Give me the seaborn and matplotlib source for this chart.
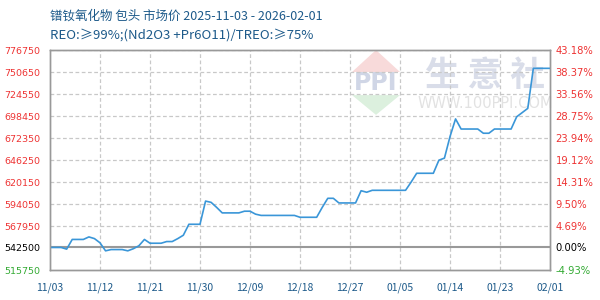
import matplotlib
matplotlib.use("Agg")
import matplotlib.pyplot as plt
import seaborn as sns
import pandas as pd
import numpy as np
from matplotlib.patches import Polygon

# ---------------- data ----------------
start_date = "2025-11-03"
prices = [
    542500, 542500, 542500, 540500, 552000, 552000, 552000, 555000, 553000, 548000,
    538500, 540000, 540000, 540000, 538500, 541000, 544500, 552000, 547500, 547500,
    547500, 549500, 549500, 553000, 557000, 570000, 570000, 570000, 597500, 596000,
    590000, 583500, 583500, 583500, 583500, 585500, 585500, 582000, 580500, 580500,
    580500, 580500, 580500, 580500, 580500, 578300, 578300, 578300, 578300, 590000,
    600800, 600800, 595300, 595300, 595300, 595300, 609800, 608000, 610300, 610300,
    610300, 610300, 610300, 610300, 610300, 620000, 630500, 630500, 630500, 630500,
    646000, 648500, 674000, 695000, 683000, 683000, 683000, 683000, 678000, 678000,
    683000, 683000, 683000, 683000, 697500, 702500, 707500, 755000, 755000, 755000,
    755000,
]
base_price = 542500
left_ticks = [776750, 750650, 724550, 698450, 672350, 646250, 620150, 594050, 567950, 542500, 515750]
right_labels = ["43.18%", "38.37%", "33.56%", "28.75%", "23.94%", "19.12%", "14.31%",
                "9.50%", "4.69%", "0.00%", "-4.93%"]
xtick_labels = ["11/03", "11/12", "11/21", "11/30", "12/09", "12/18", "12/27",
                "01/05", "01/14", "01/23", "02/01"]
title_line1 = "镨钕氧化物 包头 市场价 2025-11-03 - 2026-02-01"
title_line2 = "REO:≥99%;(Nd2O3 +Pr6O11)/TREO:≥75%"

dates = pd.date_range(start_date, periods=len(prices), freq="D")
df = pd.DataFrame({"date": dates, "price": prices})
xtick_dates = pd.date_range(start_date, periods=len(xtick_labels), freq="9D")

# ---------------- style ----------------
sns.set_theme(style="white")
plt.rcParams["font.family"] = ["Noto Sans CJK SC", "DejaVu Sans"]

fig = plt.figure(figsize=(6, 3), dpi=100)
ax = fig.add_axes([50 / 600, 30 / 300, 500 / 600, 220 / 300])

red = "#ee3333"
green = "#33aa33"
navy = "#1d5a8a"
grid_c = "#c8c8c8"
spine_c = "#999999"

# watermark
ax.add_patch(Polygon([[0.604, 0.9], [0.652, 1.0], [0.700, 0.9]], closed=True,
                     transform=ax.transAxes, facecolor="#f8dada", edgecolor="none", zorder=0))
ax.add_patch(Polygon([[0.604, 0.795], [0.652, 0.705], [0.700, 0.795]], closed=True,
                     transform=ax.transAxes, facecolor="#dcf0de", edgecolor="none", zorder=0))
ax.text(0.652, 0.848, "PPI", transform=ax.transAxes, ha="center", va="center",
        fontsize=17, fontweight="bold", color="#d0d6e6", family=["DejaVu Sans"], zorder=0)
ax.text(0.87, 0.885, "生 意 社", transform=ax.transAxes, ha="center", va="center",
        fontsize=25, fontweight="bold", color="#d9dde9", zorder=0)
ax.text(0.87, 0.755, "WWW.100PPI.COM", transform=ax.transAxes, ha="center", va="center",
        fontsize=10.5, color="#e2e2e2", family=["DejaVu Sans"], zorder=0)

sns.lineplot(data=df, x="date", y="price", ax=ax, color="#3a96d8", linewidth=1.2, zorder=3)

ax.set_xlim(dates[0], dates[-1])
ax.set_ylim(left_ticks[-1], left_ticks[0])

# grid
for v in left_ticks[:-2]:
    ax.axhline(v, color=grid_c, linestyle=(0, (3, 2)), linewidth=0.9, zorder=1)
for d in xtick_dates[1:-1]:
    ax.axvline(d, color=grid_c, linestyle=(0, (3, 2)), linewidth=0.9, zorder=1)
ax.axhline(base_price, color=spine_c, linewidth=1.5, zorder=2)

ax.set_yticks(left_ticks)
ax.set_yticklabels([str(v) for v in left_ticks])
ax.set_xticks(xtick_dates)
ax.set_xticklabels(xtick_labels)
ax.set_xlabel("")
ax.set_ylabel("")
ax.tick_params(axis="y", length=0, pad=7, labelsize=6.8)
ax.tick_params(axis="x", length=0, pad=9, labelsize=7.5, labelcolor=navy)
for i, lab in enumerate(ax.get_yticklabels()):
    lab.set_family(["DejaVu Sans"])
    lab.set_color("black" if i == len(left_ticks) - 2 else (green if i == len(left_ticks) - 1 else red))

ax2 = ax.twinx()
ax2.set_ylim(ax.get_ylim())
ax2.set_yticks(left_ticks)
ax2.set_yticklabels(right_labels)
ax2.tick_params(axis="y", length=0, pad=4, labelsize=7.2)
for i, lab in enumerate(ax2.get_yticklabels()):
    lab.set_family(["DejaVu Sans"])
    lab.set_color("black" if i == len(left_ticks) - 2 else (green if i == len(left_ticks) - 1 else red))

for a in (ax, ax2):
    for s in a.spines.values():
        s.set_color(spine_c)
        s.set_linewidth(1.0)
        s.set_visible(True)

fig.text(50 / 600, 1 - 16 / 300, title_line1, ha="left", va="center", fontsize=9, color=navy)
fig.text(50 / 600, 1 - 35 / 300, title_line2, ha="left", va="center", fontsize=9.5, color=navy)

fig.savefig("out.png", dpi=100)
